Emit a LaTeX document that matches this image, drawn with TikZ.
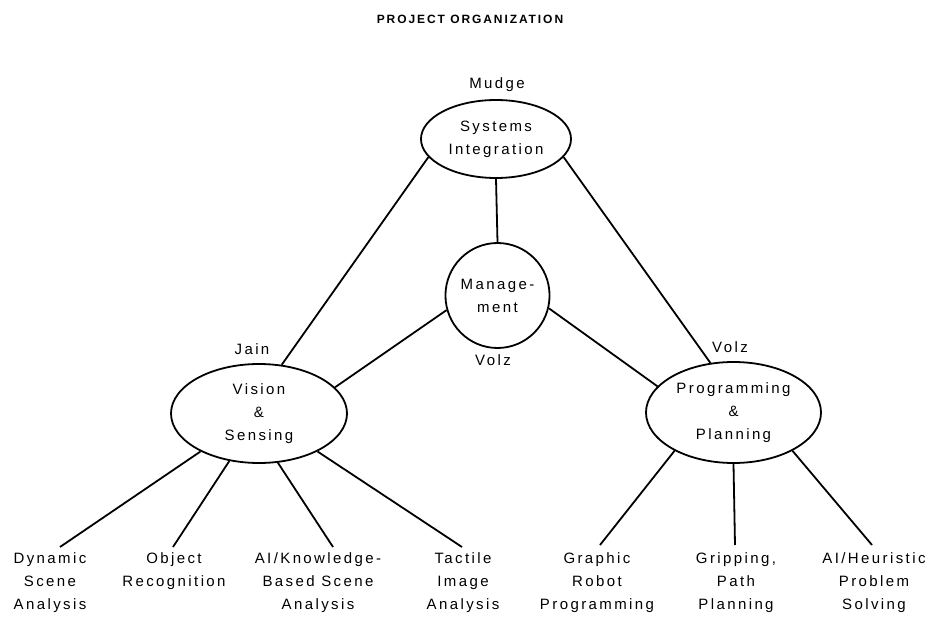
\documentclass[tikz,border=0pt]{standalone}
\usepackage{fontspec}
\setmainfont{Liberation Sans}[LetterSpace=16.0]
\usetikzlibrary{shapes.geometric}
\tikzset{
  oval/.style={draw, ellipse, line width=1.8pt, inner sep=0pt, align=center, font=\fontsize{15}{23}\selectfont},
  lbl/.style={inner sep=0pt, font=\fontsize{15}{23}\selectfont},
  leaf/.style={inner sep=0pt, anchor=north, align=center, font=\fontsize{15}{23}\selectfont},
  link/.style={line width=1.8pt},
}
\begin{document}
\begin{tikzpicture}[x=1pt, y=-1pt]
\useasboundingbox (0,0) rectangle (937,617);
\node[font=\bfseries\fontsize{12}{14}\selectfont, inner sep=0pt] (title) at (470,19) {PROJECT ORGANIZATION};

\node[oval, minimum width=150pt, minimum height=78pt] (sys) at (496,139) {Systems\\Integration};
\node[lbl] (mudge) at (497,85) {Mudge};

\node[oval, minimum width=102pt, minimum height=105pt] (mgmt) at (497.5,295.5) {Manage-\\ment};
\node[lbl] (volzm) at (493,360) {Volz};

\node[oval, minimum width=176pt, minimum height=99pt] (vis) at (259,413.5) {Vision\\\&\\Sensing};
\node[lbl] (jain) at (252,349) {Jain};

\node[oval, minimum width=175pt, minimum height=101pt] (prog) at (733.5,412.5) {Programming\\\&\\Planning};
\node[lbl] (volzp) at (730,347) {Volz};

\node[leaf] (dyn) at (50,552) {Dynamic\\Scene\\Analysis};
\node[leaf] (obj) at (174,552) {Object\\Recognition};
\node[leaf] (aikb) at (318,552) {AI/Knowledge-\\Based Scene\\Analysis};
\node[leaf] (tact) at (463,552) {Tactile\\Image\\Analysis};
\node[leaf] (graph) at (597,552) {Graphic\\Robot\\Programming};
\node[leaf] (grip) at (736,552) {Gripping,\\Path\\Planning};
\node[leaf] (heur) at (874,552) {AI/Heuristic\\Problem\\Solving};

\coordinate (dynT) at (60,547);
\coordinate (objT) at (173,547);
\coordinate (aikbT) at (333,547);
\coordinate (tactT) at (462,547);
\coordinate (graphT) at (600,545);
\coordinate (gripT) at (735,545);
\coordinate (heurT) at (872,545);

\draw[link] (sys.south) -- (mgmt.north);
\draw[link] (sys.195) -- (vis.65);
\draw[link] (sys.345) -- (prog.115);
\draw[link] (mgmt.196) -- (vis.19);
\draw[link] (mgmt.346) -- (prog.161);

\draw[link] (vis.213) -- (dynT);
\draw[link] (vis.238) -- (objT);
\draw[link] (vis.291) -- (aikbT);
\draw[link] (vis.327) -- (tactT);
\draw[link] (prog.213) -- (graphT);
\draw[link] (prog.270) -- (gripT);
\draw[link] (prog.327) -- (heurT);
\end{tikzpicture}
\end{document}
